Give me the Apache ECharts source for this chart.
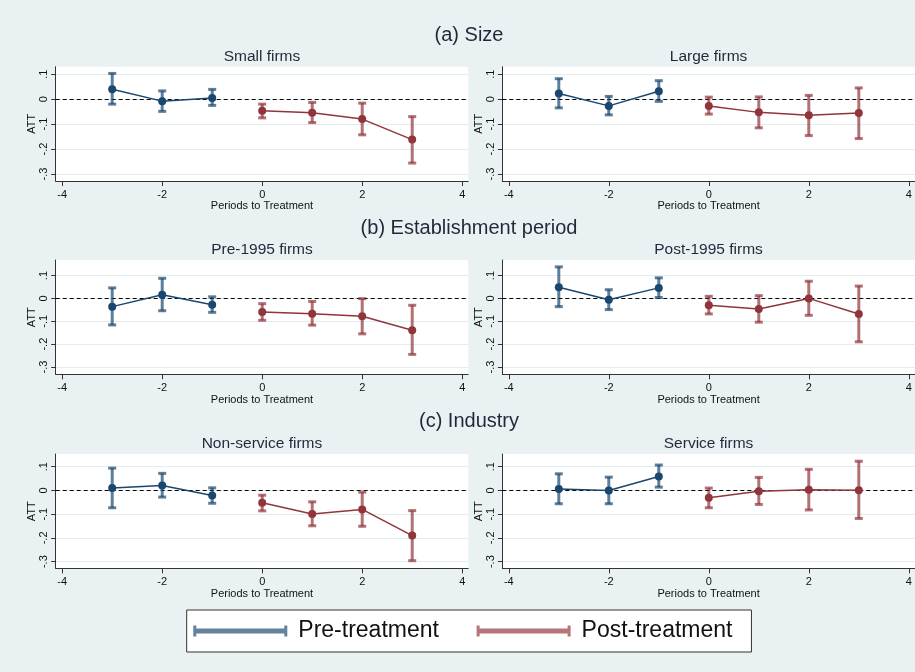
<!DOCTYPE html>
<html>
<head>
<meta charset="utf-8">
<title>Event-study estimates by firm group</title>
<script src="https://cdn.jsdelivr.net/npm/echarts@6/dist/echarts.min.js"></script>
<style>
  html, body { margin: 0; padding: 0; background: #eaf1f3; }
  #chart { width: 915px; height: 672px; }
</style>
</head>
<body>
<div id="chart"></div>
<script>
// Event time (periods relative to treatment)
const periods = [-3, -2, -1, 0, 1, 2, 3];
const xTicks = [-4, -2, 0, 2, 4];
const yTicks = [-0.3, -0.2, -0.1, 0, 0.1];

const sectionTitles = ['(a) Size', '(b) Establishment period', '(c) Industry'];
const panelTitles = ['Small firms', 'Large firms', 'Pre-1995 firms', 'Post-1995 firms', 'Non-service firms', 'Service firms'];
const legendNames = ['Pre-treatment', 'Post-treatment'];

// Point estimates and 95% confidence bounds, one entry per period
const smallEst = [0.040, -0.008, 0.005, -0.047, -0.055, -0.080, -0.162];
const smallLo  = [-0.020, -0.049, -0.025, -0.075, -0.094, -0.143, -0.256];
const smallHi  = [0.103, 0.033, 0.039, -0.020, -0.013, -0.016, -0.070];

const largeEst = [0.023, -0.027, 0.032, -0.027, -0.053, -0.065, -0.056];
const largeLo  = [-0.035, -0.063, -0.009, -0.060, -0.115, -0.146, -0.158];
const largeHi  = [0.082, 0.011, 0.074, 0.008, 0.009, 0.015, 0.045];

const pre95Est = [-0.036, 0.016, -0.028, -0.059, -0.067, -0.078, -0.139];
const pre95Lo  = [-0.116, -0.054, -0.061, -0.096, -0.117, -0.155, -0.245];
const pre95Hi  = [0.046, 0.088, 0.007, -0.023, -0.013, -0.001, -0.030];

const post95Est = [0.049, -0.006, 0.046, -0.030, -0.046, 0.000, -0.068];
const post95Lo  = [-0.036, -0.049, 0.004, -0.068, -0.104, -0.074, -0.190];
const post95Hi  = [0.138, 0.038, 0.090, 0.009, 0.012, 0.075, 0.054];

const nonServEst = [0.010, 0.021, -0.021, -0.052, -0.099, -0.080, -0.190];
const nonServLo  = [-0.073, -0.028, -0.054, -0.086, -0.149, -0.151, -0.296];
const nonServHi  = [0.094, 0.072, 0.011, -0.020, -0.048, -0.007, -0.085];

const servEst = [0.006, 0.000, 0.059, -0.031, -0.003, 0.003, 0.001];
const servLo  = [-0.056, -0.056, 0.014, -0.073, -0.059, -0.082, -0.118];
const servHi  = [0.070, 0.056, 0.107, 0.010, 0.055, 0.089, 0.123];

// Axis extents per row of panels
const xRange = [-4.13, 4.12];
const rowYMin = [-0.328, -0.332, -0.328];
const rowYMax = [0.130, 0.168, 0.1535];

const panels = [
  [smallEst, smallLo, smallHi],
  [largeEst, largeLo, largeHi],
  [pre95Est, pre95Lo, pre95Hi],
  [post95Est, post95Lo, post95Hi],
  [nonServEst, nonServLo, nonServHi],
  [servEst, servLo, servHi]
];

// Layout and styling
const FONT = '"Liberation Sans", Arial, Helvetica, sans-serif';
const NAVY = '#1a476f';
const MAROON = '#90353b';
const TITLE_COLOR = '#1e2a38';
const colLeft = [55.7, 502.3];
const gridWidth = 412.5;
const rowTop = [66.7, 260, 454];
const gridHeight = 114.3;
const sectionTop = [25, 218, 411];
const panelTitleTop = [48.5, 242, 436];

function fmtTick(v) {
  if (v === 0) return '0';
  return String(v).replace('0.', '.');
}

function errorBars(color) {
  return function (params, api) {
    const x = api.value(0);
    const pLo = api.coord([x, api.value(1)]);
    const pHi = api.coord([x, api.value(2)]);
    const style = { stroke: color, lineWidth: 3, opacity: 0.7 };
    const cap = 4;
    return {
      type: 'group',
      children: [
        { type: 'line', shape: { x1: pLo[0], y1: pLo[1], x2: pHi[0], y2: pHi[1] }, style: style },
        { type: 'line', shape: { x1: pLo[0] - cap, y1: pLo[1], x2: pLo[0] + cap, y2: pLo[1] }, style: style },
        { type: 'line', shape: { x1: pHi[0] - cap, y1: pHi[1], x2: pHi[0] + cap, y2: pHi[1] }, style: style }
      ]
    };
  };
}

const grids = [], xAxes = [], yAxes = [], series = [], titles = [];

sectionTitles.forEach(function (t, r) {
  titles.push({
    text: t, left: 469, top: sectionTop[r], textAlign: 'center', padding: 0,
    textStyle: { fontFamily: FONT, fontSize: 20, fontWeight: 'normal', color: TITLE_COLOR }
  });
});

panels.forEach(function (p, i) {
  const row = Math.floor(i / 2), col = i % 2;
  const est = p[0], lo = p[1], hi = p[2];

  grids.push({
    left: colLeft[col], top: rowTop[row], width: gridWidth, height: gridHeight,
    show: true, backgroundColor: '#ffffff', borderWidth: 0
  });

  titles.push({
    text: panelTitles[i], left: colLeft[col] + gridWidth / 2, top: panelTitleTop[row],
    textAlign: 'center', padding: 0,
    textStyle: { fontFamily: FONT, fontSize: 15.5, fontWeight: 'normal', color: TITLE_COLOR }
  });

  xAxes.push({
    type: 'value', gridIndex: i, min: xRange[0], max: xRange[1],
    name: 'Periods to Treatment', nameLocation: 'middle', nameGap: 18,
    nameTextStyle: { fontFamily: FONT, fontSize: 11, color: '#111' },
    axisLine: { show: true, onZero: false, lineStyle: { color: '#333', width: 1 } },
    axisTick: { show: true, inside: false, length: 5, customValues: xTicks, lineStyle: { color: '#333' } },
    axisLabel: { customValues: xTicks, margin: 8, fontFamily: FONT, fontSize: 11, color: '#111' },
    splitLine: { show: false }
  });

  yAxes.push({
    type: 'value', gridIndex: i, min: rowYMin[row], max: rowYMax[row],
    name: 'ATT', nameLocation: 'middle', nameGap: 18,
    nameTextStyle: { fontFamily: FONT, fontSize: 11, color: '#111' },
    axisLine: { show: true, onZero: false, lineStyle: { color: '#333', width: 1 } },
    axisTick: { show: true, inside: false, length: 4.5, customValues: yTicks, lineStyle: { color: '#333' } },
    axisLabel: { customValues: yTicks, rotate: 90, margin: 6, fontFamily: FONT, fontSize: 11, color: '#111', formatter: fmtTick },
    splitLine: { show: true, lineStyle: { color: '#e3ecee', width: 1 } }
  });

  const preBars = [], postBars = [], preLine = [], postLine = [];
  periods.forEach(function (t, k) {
    if (t < 0) {
      preBars.push([t, lo[k], hi[k]]);
      preLine.push([t, est[k]]);
    } else {
      postBars.push([t, lo[k], hi[k]]);
      postLine.push([t, est[k]]);
    }
  });

  series.push({
    type: 'custom', name: legendNames[0], xAxisIndex: i, yAxisIndex: i,
    renderItem: errorBars(NAVY), data: preBars, encode: { x: 0, y: [1, 2] }, z: 3,
    markLine: {
      silent: true, symbol: 'none', z: 1, animation: false,
      label: { show: false },
      lineStyle: { color: '#000', type: [4, 3], width: 1.2 },
      data: [{ yAxis: 0 }]
    }
  });
  series.push({
    type: 'custom', name: legendNames[1], xAxisIndex: i, yAxisIndex: i,
    renderItem: errorBars(MAROON), data: postBars, encode: { x: 0, y: [1, 2] }, z: 3
  });
  series.push({
    type: 'line', name: legendNames[0], xAxisIndex: i, yAxisIndex: i, data: preLine, z: 4,
    symbol: 'circle', symbolSize: 8, showSymbol: true,
    itemStyle: { color: NAVY }, lineStyle: { color: NAVY, width: 1.5 }
  });
  series.push({
    type: 'line', name: legendNames[1], xAxisIndex: i, yAxisIndex: i, data: postLine, z: 4,
    symbol: 'circle', symbolSize: 8, showSymbol: true,
    itemStyle: { color: MAROON }, lineStyle: { color: MAROON, width: 1.5 }
  });
});

// Legend key: thick bar with end caps
const capIcon = 'path://M0,0 H3 V3 H91 V0 H94 V11 H91 V8 H3 V11 H0 Z';

const option = {
  backgroundColor: '#eaf1f3',
  animation: false,
  title: titles,
  grid: grids,
  xAxis: xAxes,
  yAxis: yAxes,
  legend: {
    left: 186.7, top: 610, orient: 'horizontal',
    backgroundColor: '#ffffff', borderColor: '#333', borderWidth: 1, borderRadius: 0,
    padding: [9.5, 19, 9.5, 6.6], itemGap: 37.7, itemWidth: 94, itemHeight: 11,
    selectedMode: false,
    textStyle: { fontFamily: FONT, fontSize: 23, color: '#111', padding: [0, 0, 0, 6] },
    data: [
      { name: legendNames[0], icon: capIcon, itemStyle: { color: '#64829d' } },
      { name: legendNames[1], icon: capIcon, itemStyle: { color: '#b5757b' } }
    ]
  },
  series: series
};

const chart = echarts.init(document.getElementById('chart'), null, { renderer: 'canvas' });
chart.setOption(option);
</script>
</body>
</html>
